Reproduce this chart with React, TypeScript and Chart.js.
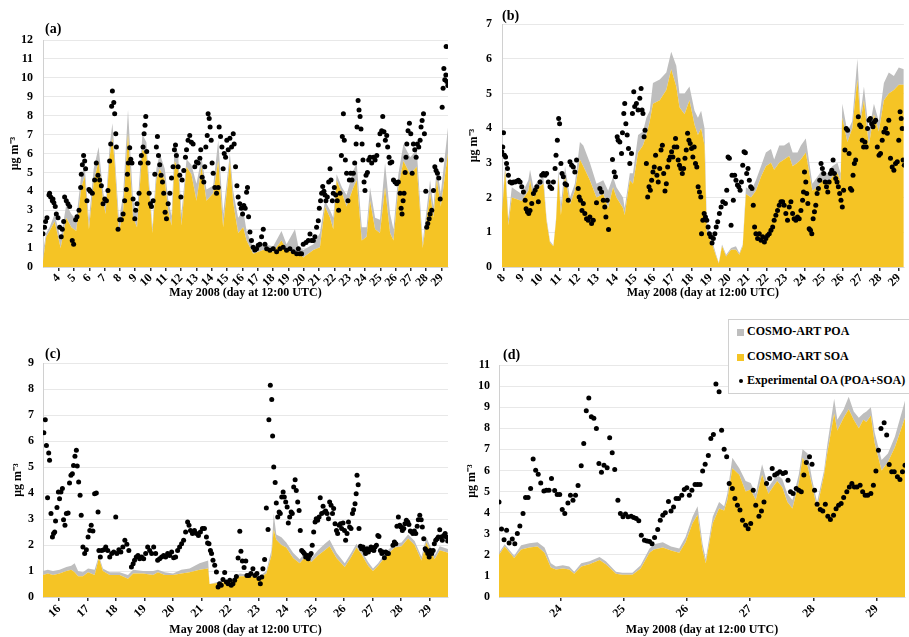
import React, { useEffect, useRef } from "react";
import { Chart, registerables } from "chart.js";
Chart.register(...registerables);

// ---------- DATA ----------
// Model rows: [day of May (integer = 12:00 UTC), SOA, POA]
const aModel = [[2.98,0.3,0.5],[3.19,1.6,0.2],[3.41,1.9,0.2],[3.74,2.4,0.4],[4.13,1.0,0.5],[4.50,2.6,0.7],[4.83,2.1,0.7],[5.15,1.9,0.6],[5.48,4.2,0.7],[5.70,4.8,0.5],[5.98,2.0,0.5],[6.29,4.5,0.7],[6.61,5.6,0.75],[6.90,3.5,0.5],[7.07,2.8,0.4],[7.33,5.8,0.6],[7.51,6.8,0.8],[7.66,5.5,0.5],[7.94,1.8,0.7],[8.21,3.0,0.8],[8.53,7.05,1.25],[8.86,2.6,0.9],[9.12,2.1,0.7],[9.47,6.2,0.8],[9.73,6.0,0.6],[10.12,1.8,0.3],[10.38,4.6,0.6],[10.60,5.2,0.8],[10.93,4.6,0.6],[11.15,3.0,0.6],[11.37,2.2,0.5],[11.58,5.6,0.9],[11.80,5.2,0.8],[12.02,2.2,0.6],[12.35,5.3,0.4],[12.67,4.9,0.5],[13.00,3.5,0.9],[13.33,5.3,0.5],[13.65,3.5,0.6],[14.09,3.9,0.4],[14.42,5.6,1.1],[14.74,2.1,0.7],[15.18,5.6,0.4],[15.40,3.4,0.6],[15.72,1.8,0.8],[16.05,2.1,0.9],[16.27,1.4,0.5],[16.70,0.7,0.35],[17.36,0.9,0.3],[18.01,0.8,0.3],[18.55,1.4,0.5],[18.88,0.9,0.3],[19.43,0.7,1.3],[19.65,0.8,0.3],[19.97,0.5,0.4],[20.63,0.9,0.3],[21.06,1.05,0.75],[21.39,3.2,0.3],[21.72,2.6,0.4],[21.93,2.0,0.6],[22.15,4.6,0.3],[22.50,3.9,0.3],[22.80,3.2,0.6],[23.24,4.2,0.9],[23.46,4.6,0.9],[23.79,1.4,0.7],[24.11,1.6,0.5],[24.33,3.5,0.7],[24.66,2.0,0.6],[24.98,1.8,0.7],[25.31,4.2,1.3],[25.64,1.8,1.0],[25.86,1.4,0.6],[26.18,4.2,0.7],[26.51,5.6,0.9],[26.95,4.9,0.9],[27.38,5.3,0.9],[27.77,1.0,0.3],[28.25,3.9,0.7],[28.47,2.6,0.6],[28.69,4.6,0.7],[28.95,3.2,0.7],[29.45,6.2,1.4]];

// Experimental OA: [day, value]
const aObs = [[2.98,1.76],[3.08,2.1],[3.15,2.4],[3.24,2.6],[3.37,3.8],[3.41,3.9],[3.48,3.7],[3.59,3.5],[3.63,3.6],[3.69,3.4],[3.78,3.2],[3.85,2.8],[3.96,2.6],[4.07,2.1],[4.17,1.6],[4.24,2.0],[4.33,2.4],[4.39,3.7],[4.50,3.5],[4.61,3.35],[4.72,3.2],[4.89,1.4],[4.98,1.2],[5.11,2.5],[5.20,2.65],[5.33,3.0],[5.44,4.2],[5.48,4.9],[5.55,5.4],[5.63,5.9],[5.70,5.6],[5.76,5.2],[5.85,3.5],[5.98,4.1],[6.07,4.0],[6.20,3.9],[6.35,4.6],[6.46,5.5],[6.57,4.85],[6.68,4.6],[6.79,4.3],[6.90,3.35],[7.01,3.6],[7.12,3.5],[7.22,4.05],[7.33,5.6],[7.40,6.5],[7.46,8.5],[7.51,9.3],[7.60,8.7],[7.66,8.1],[7.73,7.05],[7.77,6.35],[7.88,2.0],[7.99,2.5],[8.10,2.5],[8.21,2.8],[8.31,3.5],[8.42,4.1],[8.49,4.9],[8.55,5.5],[8.64,6.3],[8.71,5.7],[8.79,5.5],[8.86,3.6],[8.97,2.55],[9.03,3.0],[9.12,3.35],[9.25,3.9],[9.34,5.5],[9.40,5.9],[9.51,6.35],[9.58,7.05],[9.64,7.5],[9.69,7.95],[9.75,6.1],[9.84,5.5],[9.91,3.9],[9.99,3.35],[10.06,3.2],[10.17,3.5],[10.28,4.9],[10.38,6.35],[10.45,6.9],[10.52,5.9],[10.60,5.4],[10.69,4.85],[10.78,4.5],[10.86,3.9],[10.95,2.9],[11.04,2.55],[11.15,3.35],[11.26,3.9],[11.37,4.7],[11.47,5.3],[11.56,6.2],[11.63,6.45],[11.69,5.9],[11.80,5.3],[11.91,4.85],[11.98,3.7],[12.06,4.6],[12.17,5.1],[12.28,5.8],[12.35,6.2],[12.45,6.7],[12.56,6.95],[12.67,6.6],[12.78,6.5],[12.89,5.3],[13.00,5.55],[13.11,5.5],[13.22,5.75],[13.28,6.2],[13.37,4.75],[13.48,4.5],[13.54,5.3],[13.61,6.35],[13.70,6.95],[13.76,8.1],[13.83,7.85],[13.89,7.4],[13.96,6.7],[14.02,5.5],[14.09,4.95],[14.20,4.2],[14.31,3.9],[14.42,4.2],[14.48,7.4],[14.57,6.9],[14.66,6.35],[14.74,5.2],[14.81,6.0],[14.90,5.8],[14.98,6.7],[15.07,6.2],[15.18,6.8],[15.29,6.35],[15.40,7.05],[15.46,6.5],[15.55,5.3],[15.64,4.3],[15.72,3.7],[15.83,3.35],[15.92,3.1],[16.01,2.8],[16.09,3.25],[16.18,3.1],[16.27,3.95],[16.33,4.2],[16.40,2.65],[16.49,1.85],[16.59,1.4],[16.70,1.05],[16.81,0.9],[16.92,0.97],[17.03,1.15],[17.14,1.2],[17.25,1.6],[17.36,2.0],[17.47,1.2],[17.58,0.97],[17.79,0.88],[18.01,0.97],[18.23,0.8],[18.45,0.97],[18.66,1.05],[18.88,0.88],[19.10,0.97],[19.32,0.8],[19.54,0.7],[19.65,0.97],[19.75,0.7],[19.86,0.7],[19.97,1.2],[20.15,1.3],[20.30,1.4],[20.41,1.75],[20.52,1.4],[20.63,1.4],[20.73,1.6],[20.84,2.1],[20.95,2.45],[21.02,3.1],[21.10,3.5],[21.17,3.9],[21.24,4.25],[21.32,4.0],[21.39,3.8],[21.45,3.5],[21.54,3.7],[21.63,4.5],[21.72,5.2],[21.78,4.6],[21.87,3.5],[21.93,3.9],[22.00,4.2],[22.09,3.8],[22.19,3.5],[22.28,3.0],[22.37,3.9],[22.46,5.9],[22.52,6.9],[22.59,8.1],[22.65,6.7],[22.72,5.65],[22.80,4.95],[22.89,3.5],[22.98,4.6],[23.07,4.95],[23.15,4.6],[23.24,4.95],[23.33,5.5],[23.42,6.5],[23.48,7.4],[23.55,8.8],[23.61,8.3],[23.68,7.95],[23.74,7.3],[23.81,6.5],[23.87,5.65],[23.94,4.5],[24.00,4.05],[24.07,4.85],[24.16,5.0],[24.24,5.65],[24.33,5.8],[24.44,5.5],[24.55,5.8],[24.66,5.65],[24.77,5.9],[24.87,6.45],[24.98,7.05],[25.09,7.2],[25.16,7.95],[25.24,7.15],[25.33,6.7],[25.42,6.95],[25.48,6.35],[25.57,5.8],[25.64,5.5],[25.75,5.55],[25.86,4.6],[25.96,4.5],[26.07,4.4],[26.18,4.5],[26.29,3.9],[26.36,3.1],[26.42,2.8],[26.49,3.5],[26.55,3.9],[26.62,5.0],[26.68,5.8],[26.73,6.5],[26.81,7.2],[26.90,7.6],[26.99,7.05],[27.08,4.95],[27.16,6.5],[27.25,6.2],[27.34,5.8],[27.42,6.5],[27.51,6.35],[27.60,6.7],[27.66,7.4],[27.73,7.75],[27.82,8.1],[27.88,7.05],[27.97,4.0],[28.03,2.1],[28.10,2.3],[28.19,2.55],[28.25,2.8],[28.36,3.0],[28.47,4.05],[28.56,5.3],[28.64,5.1],[28.73,4.95],[28.82,4.7],[28.91,3.6],[28.99,5.65],[29.04,8.45],[29.10,9.45],[29.15,10.5],[29.21,9.9],[29.28,10.15],[29.30,11.65],[29.34,9.8],[29.41,9.6]];

const bModel = [[7.91,1.5,0.1],[8.09,2.8,0.2],[8.26,1.2,0.2],[8.44,2.0,0.3],[8.71,1.95,0.25],[8.97,1.9,0.2],[9.32,2.2,0.3],[9.41,2.5,0.3],[9.59,2.0,0.3],[9.85,2.3,0.2],[10.12,2.4,0.2],[10.29,1.3,0.1],[10.47,0.7,0.05],[10.65,0.6,0.02],[10.79,1.3,0.1],[10.91,2.6,0.2],[11.05,1.5,0.3],[11.27,2.6,0.3],[11.53,1.8,0.2],[11.79,2.2,0.2],[12.06,3.1,0.5],[12.24,2.9,0.6],[12.59,2.5,0.5],[12.94,2.0,0.4],[13.30,2.1,0.4],[13.56,1.7,0.5],[13.82,2.3,0.3],[14.00,2.0,0.3],[14.35,1.7,0.3],[14.44,1.5,0.2],[14.71,2.5,0.2],[14.88,2.4,0.3],[15.15,3.3,0.5],[15.41,3.5,0.4],[15.59,3.8,0.5],[15.77,4.2,0.3],[15.94,4.7,0.6],[16.30,4.8,0.6],[16.65,5.1,0.5],[16.91,5.7,0.5],[17.18,5.2,0.6],[17.35,4.6,0.4],[17.62,4.4,0.6],[17.88,4.8,0.4],[18.15,4.1,0.4],[18.33,3.8,0.5],[18.50,4.0,0.5],[18.68,3.5,0.5],[18.80,1.0,0.3],[19.12,0.6,0.1],[19.30,0.3,0.05],[19.44,0.1,0.02],[19.61,0.6,0.05],[19.83,0.3,0.05],[20.09,0.5,0.05],[20.35,0.5,0.1],[20.53,0.35,0.05],[20.71,0.6,0.05],[20.88,2.1,0.2],[21.15,2.0,0.2],[21.41,2.2,0.3],[21.68,2.6,0.3],[21.94,2.9,0.4],[22.21,3.0,0.4],[22.38,2.8,0.3],[22.65,3.0,0.5],[22.91,3.1,0.4],[23.18,3.2,0.4],[23.36,2.9,0.4],[23.62,3.0,0.3],[23.80,3.1,0.4],[24.06,3.3,0.4],[24.41,2.2,0.2],[24.68,2.3,0.3],[24.94,2.5,0.3],[25.21,2.4,0.3],[25.47,2.6,0.3],[25.74,2.7,0.3],[25.91,2.5,0.2],[26.00,4.3,0.4],[26.27,3.6,0.3],[26.53,4.0,0.2],[26.80,5.4,0.6],[26.97,4.2,0.2],[27.15,4.8,0.4],[27.41,3.5,0.4],[27.68,4.4,0.3],[27.94,3.9,0.3],[28.21,4.8,0.5],[28.47,5.0,0.6],[28.74,5.1,0.4],[29.00,5.25,0.5],[29.27,5.25,0.45]];

const bObs = [[7.91,3.32],[7.96,3.46],[8.00,3.87],[8.05,3.22],[8.11,3.17],[8.16,2.98],[8.21,2.84],[8.26,2.64],[8.35,2.45],[8.44,2.42],[8.53,2.45],[8.62,2.45],[8.71,2.47],[8.79,2.5],[8.88,2.45],[8.97,2.31],[9.06,2.16],[9.15,1.92],[9.20,1.68],[9.27,1.59],[9.34,1.54],[9.41,1.63],[9.50,1.83],[9.59,2.12],[9.68,2.21],[9.77,2.31],[9.85,1.88],[9.94,2.45],[10.03,2.64],[10.12,2.69],[10.21,2.64],[10.29,2.69],[10.38,2.45],[10.47,2.31],[10.56,2.26],[10.65,2.45],[10.74,2.84],[10.79,3.22],[10.86,3.65],[10.93,4.28],[10.98,4.13],[11.05,2.98],[11.11,2.69],[11.18,2.6],[11.27,2.4],[11.35,2.36],[11.44,1.92],[11.53,3.03],[11.62,2.93],[11.71,2.88],[11.79,2.74],[11.88,3.08],[11.97,2.26],[12.02,2.02],[12.09,1.92],[12.17,1.63],[12.24,1.83],[12.32,1.54],[12.41,1.39],[12.50,1.35],[12.59,1.44],[12.68,1.25],[12.77,1.35],[12.94,1.85],[13.12,2.26],[13.21,2.16],[13.30,1.92],[13.38,1.73],[13.44,1.44],[13.51,1.92],[13.58,1.08],[13.79,3.1],[13.88,2.74],[13.95,2.6],[14.04,3.75],[14.09,3.65],[14.18,3.6],[14.27,3.27],[14.32,3.87],[14.39,4.42],[14.44,4.71],[14.50,4.13],[14.57,3.8],[14.64,3.41],[14.71,2.98],[14.80,3.27],[14.85,4.42],[14.92,5.05],[14.97,4.62],[15.06,4.71],[15.15,4.52],[15.24,4.86],[15.31,5.14],[15.36,4.52],[15.41,4.42],[15.47,3.75],[15.52,3.94],[15.59,2.98],[15.66,2.02],[15.73,2.31],[15.80,2.21],[15.87,2.5],[15.94,2.74],[16.01,2.88],[16.08,3.22],[16.15,2.64],[16.22,2.45],[16.30,2.84],[16.37,3.37],[16.44,3.51],[16.51,2.69],[16.58,2.19],[16.65,2.4],[16.72,2.88],[16.79,3.08],[16.86,3.17],[16.93,3.32],[17.00,3.17],[17.07,3.46],[17.14,3.7],[17.21,3.46],[17.28,3.08],[17.35,2.93],[17.42,2.84],[17.50,2.69],[17.57,2.84],[17.64,3.13],[17.71,3.37],[17.78,3.85],[17.85,3.65],[17.92,3.56],[17.99,3.41],[18.06,3.17],[18.13,3.46],[18.20,2.98],[18.27,2.88],[18.34,2.31],[18.41,2.16],[18.48,2.02],[18.52,0.96],[18.59,1.35],[18.66,1.54],[18.73,1.44],[18.80,1.35],[18.87,1.15],[18.94,0.96],[19.01,0.87],[19.08,0.69],[19.15,0.82],[19.23,0.96],[19.30,1.15],[19.38,1.3],[19.47,1.54],[19.56,1.73],[19.65,1.88],[19.79,1.83],[19.86,2.21],[19.93,3.17],[20.00,3.13],[20.09,1.2],[20.14,2.64],[20.21,1.92],[20.28,2.64],[20.35,2.5],[20.43,2.36],[20.50,2.31],[20.57,2.21],[20.64,2.45],[20.71,2.93],[20.78,3.32],[20.85,3.29],[20.92,2.69],[20.99,2.84],[21.06,2.5],[21.13,2.31],[21.20,2.26],[21.27,1.78],[21.34,1.15],[21.41,0.96],[21.50,0.82],[21.59,0.96],[21.68,0.77],[21.77,0.87],[21.86,0.72],[21.94,0.82],[22.03,0.91],[22.12,0.96],[22.21,1.06],[22.30,1.15],[22.38,1.35],[22.47,1.49],[22.56,1.63],[22.65,1.78],[22.74,1.88],[22.83,1.88],[22.91,1.78],[23.00,1.54],[23.09,1.35],[23.18,1.73],[23.27,1.88],[23.36,1.54],[23.44,1.39],[23.53,1.35],[23.62,1.44],[23.71,1.39],[23.80,1.63],[23.89,1.92],[23.94,2.16],[23.99,2.74],[24.06,2.45],[24.11,2.12],[24.17,1.83],[24.24,1.1],[24.31,1.06],[24.38,0.96],[24.45,1.39],[24.52,1.59],[24.59,1.78],[24.66,2.12],[24.73,2.26],[24.80,2.5],[24.87,2.98],[24.94,2.84],[25.01,2.69],[25.09,2.45],[25.16,2.31],[25.23,2.16],[25.30,2.45],[25.37,2.69],[25.44,2.79],[25.51,3.08],[25.58,2.69],[25.65,2.55],[25.72,2.45],[25.79,2.31],[25.86,2.12],[25.93,1.92],[26.00,1.73],[26.07,2.21],[26.14,3.37],[26.21,3.99],[26.28,3.94],[26.36,3.27],[26.43,2.26],[26.50,2.21],[26.57,2.64],[26.64,2.98],[26.71,3.08],[26.85,4.33],[26.92,4.09],[26.99,4.04],[27.06,3.65],[27.13,3.46],[27.20,3.6],[27.27,3.46],[27.34,3.99],[27.42,4.23],[27.49,4.28],[27.56,4.13],[27.63,4.04],[27.70,4.18],[27.77,4.23],[27.86,3.46],[27.95,3.22],[28.03,3.27],[28.12,3.65],[28.21,3.89],[28.30,3.99],[28.39,3.85],[28.47,4.23],[28.56,3.13],[28.65,2.88],[28.74,2.79],[28.83,2.98],[28.92,3.03],[29.00,3.65],[29.07,4.47],[29.13,4.28],[29.18,3.99],[29.23,3.08],[29.29,2.93]];

const cModel = [[15.44,0.85,0.15],[15.61,0.9,0.15],[15.79,0.85,0.15],[16.02,0.9,0.15],[16.26,1.0,0.15],[16.43,1.05,0.15],[16.55,0.95,0.35],[16.67,0.8,0.2],[16.84,0.8,0.15],[17.02,0.95,0.15],[17.25,0.85,0.2],[17.40,1.5,0.1],[17.54,1.0,0.1],[17.78,0.85,0.1],[18.13,0.85,0.1],[18.42,0.7,0.15],[18.60,0.9,0.15],[18.95,0.9,0.1],[19.30,0.85,0.15],[19.47,0.95,0.1],[19.71,0.85,0.1],[20.00,0.85,0.05],[20.29,0.9,0.15],[20.58,0.95,0.15],[20.93,1.05,0.25],[21.23,1.1,0.3],[21.28,0.5,0.0],[21.64,0.55,0.05],[21.99,0.6,0.05],[22.34,0.8,0.1],[22.69,0.8,0.05],[23.04,0.75,0.05],[23.27,0.9,0.1],[23.45,1.6,0.2],[23.53,2.6,0.6],[23.62,2.2,0.2],[23.80,2.0,0.3],[23.97,1.9,0.2],[24.21,1.5,0.2],[24.44,1.3,0.15],[24.67,1.6,0.15],[24.85,1.35,0.15],[25.08,1.6,0.2],[25.32,1.8,0.25],[25.49,1.95,0.25],[25.73,1.5,0.2],[26.02,1.15,0.15],[26.25,1.55,0.15],[26.43,1.9,0.15],[26.60,1.65,0.15],[26.84,1.2,0.15],[27.01,1.0,0.1],[27.19,1.2,0.1],[27.48,1.6,0.15],[27.77,1.9,0.15],[28.01,1.95,0.15],[28.24,2.25,0.15],[28.47,2.0,0.15],[28.71,1.4,0.15],[28.88,2.1,0.2],[29.06,1.7,0.15],[29.17,1.45,0.15],[29.35,1.8,0.15],[29.64,1.7,0.15]];

const cObs = [[15.47,6.32],[15.52,6.82],[15.56,5.83],[15.60,3.82],[15.64,5.54],[15.67,5.26],[15.72,3.21],[15.77,2.31],[15.81,2.44],[15.85,2.5],[15.88,2.92],[15.93,3.44],[15.98,4.04],[16.02,3.78],[16.07,4.04],[16.12,4.17],[16.16,2.97],[16.21,2.76],[16.26,3.21],[16.32,3.23],[16.37,4.38],[16.42,4.68],[16.47,4.74],[16.51,5.06],[16.56,5.41],[16.61,5.64],[16.64,5.04],[16.69,4.42],[16.74,3.91],[16.78,3.14],[16.84,1.92],[16.90,1.67],[16.96,1.82],[17.02,2.31],[17.08,2.56],[17.13,2.76],[17.19,2.54],[17.25,3.97],[17.31,4.0],[17.37,3.27],[17.40,1.79],[17.45,1.54],[17.50,1.79],[17.57,1.82],[17.64,1.92],[17.71,1.79],[17.78,1.54],[17.85,1.67],[17.92,1.73],[17.99,3.08],[18.03,1.67],[18.10,1.82],[18.17,1.73],[18.24,1.92],[18.31,2.18],[18.38,2.03],[18.45,1.79],[18.54,1.15],[18.60,1.28],[18.65,1.41],[18.71,1.54],[18.77,1.6],[18.83,1.47],[18.90,1.54],[18.97,1.47],[19.04,1.67],[19.11,1.92],[19.18,1.79],[19.25,1.67],[19.32,1.92],[19.39,1.67],[19.46,1.41],[19.53,1.47],[19.60,1.54],[19.67,1.6],[19.74,1.54],[19.81,1.67],[19.88,1.6],[19.95,1.73],[20.02,1.51],[20.09,1.54],[20.16,1.79],[20.23,1.92],[20.30,2.05],[20.37,2.18],[20.44,2.5],[20.51,2.88],[20.56,2.76],[20.61,2.56],[20.68,2.44],[20.75,2.56],[20.82,2.44],[20.89,2.37],[20.96,2.5],[21.03,2.63],[21.10,2.63],[21.17,2.31],[21.21,2.08],[21.26,2.05],[21.31,1.79],[21.35,1.67],[21.40,1.41],[21.46,1.22],[21.52,0.96],[21.58,0.38],[21.63,0.51],[21.69,0.45],[21.75,0.67],[21.81,0.94],[21.87,0.58],[21.93,0.51],[21.99,0.64],[22.04,0.45],[22.10,0.51],[22.16,0.64],[22.22,0.79],[22.28,1.5],[22.34,2.53],[22.38,1.76],[22.43,1.38],[22.49,1.13],[22.55,1.38],[22.59,0.83],[22.66,0.83],[22.73,0.9],[22.80,1.09],[22.87,0.83],[22.94,0.9],[23.01,0.71],[23.06,0.51],[23.11,0.77],[23.15,1.09],[23.21,1.44],[23.27,3.42],[23.33,2.6],[23.36,6.82],[23.41,8.14],[23.46,7.6],[23.49,6.19],[23.53,5.0],[23.58,4.4],[23.62,3.62],[23.67,3.08],[23.72,3.27],[23.76,3.21],[23.81,3.85],[23.86,4.04],[23.90,3.85],[23.95,3.65],[24.00,3.46],[24.04,2.85],[24.09,3.08],[24.14,3.27],[24.18,3.21],[24.23,4.23],[24.28,4.51],[24.32,4.1],[24.37,3.65],[24.42,3.33],[24.46,2.56],[24.51,1.79],[24.56,1.73],[24.60,1.67],[24.65,1.54],[24.70,1.6],[24.74,1.47],[24.79,1.6],[24.84,1.67],[24.88,1.99],[24.93,2.5],[24.98,2.88],[25.02,3.01],[25.07,2.95],[25.12,3.08],[25.16,3.82],[25.21,3.21],[25.26,3.49],[25.31,3.27],[25.35,3.31],[25.40,3.21],[25.45,3.01],[25.49,3.65],[25.54,3.53],[25.59,3.21],[25.63,3.4],[25.68,2.82],[25.73,2.56],[25.77,2.44],[25.82,2.76],[25.87,2.82],[25.91,2.63],[25.96,2.85],[26.01,2.56],[26.05,2.18],[26.10,2.44],[26.15,2.88],[26.19,2.69],[26.24,2.63],[26.29,3.21],[26.33,3.36],[26.38,3.59],[26.42,3.97],[26.45,4.68],[26.49,4.32],[26.52,2.63],[26.57,1.95],[26.61,1.86],[26.66,1.92],[26.71,1.79],[26.75,1.67],[26.80,1.86],[26.85,1.73],[26.89,1.82],[26.94,1.92],[26.99,1.82],[27.04,1.79],[27.08,1.92],[27.13,1.99],[27.18,2.37],[27.22,2.33],[27.27,1.79],[27.32,1.67],[27.36,1.73],[27.41,1.51],[27.46,1.73],[27.50,1.67],[27.55,1.67],[27.71,1.99],[27.76,2.12],[27.81,2.05],[27.85,2.72],[27.90,3.08],[27.95,2.76],[27.99,2.69],[28.04,2.56],[28.09,2.63],[28.13,2.82],[28.18,2.95],[28.23,2.88],[28.27,2.79],[28.32,2.54],[28.37,2.5],[28.41,2.44],[28.46,2.54],[28.51,2.44],[28.56,2.72],[28.60,2.97],[28.65,3.14],[28.70,2.97],[28.74,2.69],[28.79,2.24],[28.84,1.86],[28.88,1.79],[28.93,1.67],[28.98,1.54],[29.02,1.79],[29.07,1.67],[29.12,1.79],[29.16,2.05],[29.21,2.18],[29.26,2.24],[29.30,2.31],[29.35,2.59],[29.40,2.31],[29.44,2.18],[29.49,2.37],[29.54,2.44],[29.58,2.31],[29.63,2.15]];

const dModel = [[23.03,2.0,0.1],[23.12,2.4,0.1],[23.27,1.85,0.1],[23.38,2.25,0.2],[23.51,2.35,0.2],[23.64,2.4,0.2],[23.75,2.1,0.25],[23.85,1.4,0.2],[23.93,1.3,0.15],[24.04,1.35,0.15],[24.14,1.3,0.15],[24.22,1.1,0.1],[24.33,1.45,0.15],[24.46,1.55,0.15],[24.62,1.75,0.15],[24.72,1.55,0.15],[24.88,1.1,0.1],[24.98,1.05,0.1],[25.14,1.05,0.1],[25.27,1.35,0.15],[25.41,2.1,0.2],[25.48,2.25,0.25],[25.62,2.35,0.25],[25.75,2.2,0.2],[25.88,2.1,0.2],[25.98,2.6,0.25],[26.09,3.5,0.3],[26.17,3.9,0.4],[26.25,2.2,0.3],[26.30,1.6,0.2],[26.41,3.5,0.3],[26.51,4.2,0.3],[26.59,4.1,0.2],[26.64,4.6,0.3],[26.72,6.1,0.5],[26.83,5.8,0.3],[26.93,5.0,0.5],[27.01,5.1,0.3],[27.09,4.6,0.3],[27.19,5.8,0.5],[27.29,4.9,0.3],[27.38,5.3,0.3],[27.43,5.5,0.3],[27.51,5.2,0.4],[27.59,4.5,0.4],[27.67,4.2,0.4],[27.77,5.4,0.4],[27.83,6.6,0.4],[27.91,6.2,0.6],[27.98,5.3,0.3],[28.06,4.2,0.3],[28.17,5.8,0.2],[28.22,6.8,0.4],[28.33,8.7,0.7],[28.38,7.9,0.5],[28.48,8.5,0.4],[28.56,8.9,0.6],[28.64,8.4,0.4],[28.72,8.0,0.5],[28.79,8.4,0.3],[28.84,8.3,0.5],[28.91,8.6,0.4],[28.97,7.3,0.5],[29.08,6.0,0.5],[29.18,6.4,0.4],[29.29,7.1,0.5],[29.45,8.5,0.8]];

const dObs = [[23.03,4.51],[23.07,3.23],[23.11,2.72],[23.15,3.17],[23.19,2.56],[23.24,2.75],[23.28,2.53],[23.32,3.01],[23.36,3.37],[23.41,3.96],[23.45,4.72],[23.49,4.72],[23.53,5.14],[23.57,6.54],[23.61,6.01],[23.65,5.82],[23.69,5.41],[23.74,5.03],[23.78,5.06],[23.82,5.06],[23.86,5.62],[23.91,5.05],[23.95,4.86],[23.99,4.86],[24.03,4.15],[24.07,3.96],[24.12,4.46],[24.16,4.83],[24.20,4.59],[24.24,4.83],[24.28,5.29],[24.33,6.22],[24.37,7.28],[24.41,8.83],[24.45,9.43],[24.49,8.55],[24.53,8.47],[24.57,7.99],[24.61,6.33],[24.65,5.92],[24.69,6.25],[24.74,6.13],[24.78,7.55],[24.82,6.84],[24.86,6.05],[24.91,4.59],[24.95,3.96],[24.99,3.8],[25.03,3.93],[25.07,3.8],[25.12,3.83],[25.16,3.77],[25.20,3.72],[25.24,3.61],[25.28,2.93],[25.33,2.69],[25.37,2.66],[25.41,2.63],[25.45,2.53],[25.49,2.82],[25.54,3.2],[25.58,3.64],[25.62,3.88],[25.66,4.0],[25.71,4.53],[25.75,4.08],[25.79,4.27],[25.83,4.67],[25.87,4.67],[25.92,4.83],[25.96,5.1],[26.00,5.18],[26.04,4.83],[26.08,5.06],[26.13,5.33],[26.17,5.33],[26.21,5.33],[26.25,5.97],[26.29,6.3],[26.34,6.71],[26.38,7.52],[26.42,7.71],[26.46,10.1],[26.51,9.73],[26.55,7.91],[26.59,7.0],[26.63,6.65],[26.67,5.38],[26.72,5.14],[26.76,4.67],[26.80,4.35],[26.84,4.12],[26.88,3.64],[26.93,3.4],[26.97,3.24],[27.01,3.48],[27.05,5.06],[27.09,4.35],[27.14,3.83],[27.18,4.08],[27.22,4.51],[27.26,5.38],[27.31,5.62],[27.35,6.09],[27.39,5.78],[27.43,5.86],[27.47,5.94],[27.52,5.86],[27.56,5.9],[27.60,5.54],[27.64,4.99],[27.68,4.91],[27.73,5.14],[27.77,5.06],[27.81,4.99],[27.85,5.78],[27.89,6.38],[27.94,6.65],[27.98,6.3],[28.02,5.06],[28.06,4.4],[28.11,4.15],[28.15,4.08],[28.19,4.4],[28.23,3.83],[28.27,3.67],[28.32,3.88],[28.36,4.19],[28.40,4.35],[28.44,4.43],[28.48,4.72],[28.53,4.99],[28.57,5.22],[28.61,5.38],[28.65,5.22],[28.69,5.22],[28.74,5.3],[28.78,4.99],[28.82,4.83],[28.86,4.83],[28.91,4.91],[28.95,5.3],[28.99,5.98],[29.03,6.96],[29.07,7.99],[29.12,8.26],[29.16,7.68],[29.20,6.28],[29.24,5.94],[29.28,5.94],[29.33,5.7],[29.37,5.57],[29.41,5.94],[29.45,6.25]];

// Tick labels (days of May 2008)
const aTicks = [4,5,6,7,8,9,10,11,12,13,14,15,16,17,18,19,20,21,22,23,24,25,26,27,28,29];
const bTicks = [8,9,10,11,12,13,14,15,16,17,18,19,20,21,22,23,24,25,26,27,28,29];
const cTicks = [16,17,18,19,20,21,22,23,24,25,26,27,28,29];
const dTicks = [24,25,26,27,28,29];
const aYMax = 12, bYMax = 7, cYMax = 9, dYMax = 11;
const xTitle = "May 2008 (day at 12:00 UTC)";
const yTitle = "μg m⁻³";
const legendLabels = ["COSMO-ART POA", "COSMO-ART SOA", "Experimental OA (POA+SOA)"];

// ---------- STYLE ----------
const FONT = "'Liberation Serif', 'Times New Roman', serif";
const YELLOW = "#F5C425";
const GRAY = "#BEBEBE";

type PanelCfg = {
  model: number[][]; obs: number[][]; ticks: number[]; yMax: number;
  xMin: number; xMax: number;
  left: number; top: number; w: number; h: number;
  padTop: number; padRight: number; yWidth: number; xHeight: number;
  yTitlePad: number; xTitlePad: number; yTickPad: number; xTickPad: number;
};

function Panel({ cfg }: { cfg: PanelCfg }) {
  const ref = useRef<HTMLCanvasElement | null>(null);
  useEffect(() => {
    if (!ref.current) return;
    const font = { family: FONT, size: 12, weight: "bold" as const };
    const chart = new Chart(ref.current, {
      type: "line",
      data: {
        datasets: [
          {
            data: cfg.model.map((r) => ({ x: r[0], y: r[1] })),
            fill: "origin", backgroundColor: YELLOW, borderColor: "rgba(0,0,0,0)",
            borderWidth: 0, pointRadius: 0, tension: 0, order: 1,
          },
          {
            data: cfg.model.map((r) => ({ x: r[0], y: r[1] + r[2] })),
            fill: "-1", backgroundColor: GRAY, borderColor: "rgba(0,0,0,0)",
            borderWidth: 0, pointRadius: 0, tension: 0, order: 2,
          },
          {
            data: cfg.obs.map((p) => ({ x: p[0], y: p[1] })),
            showLine: false, pointRadius: 2.5, pointBackgroundColor: "#000",
            pointBorderColor: "#000", pointBorderWidth: 0, order: 0,
          },
        ],
      } as any,
      options: {
        responsive: false,
        animation: false,
        events: [],
        layout: { padding: { top: cfg.padTop, right: cfg.padRight, left: 0, bottom: 0 } },
        plugins: { legend: { display: false }, tooltip: { enabled: false } },
        scales: {
          x: {
            type: "linear", min: cfg.xMin, max: cfg.xMax, bounds: "data",
            afterBuildTicks: (s: any) => { s.ticks = cfg.ticks.map((v) => ({ value: v })); },
            afterFit: (s: any) => { s.height = cfg.xHeight; },
            ticks: {
              autoSkip: false, minRotation: 45, maxRotation: 45, padding: cfg.xTickPad,
              font, color: "#000", callback: (v: any) => String(v),
            },
            grid: { drawOnChartArea: false, tickLength: 4, color: "#333", lineWidth: 1.5 },
            border: { color: "#d8d8d8" },
            title: { display: true, text: xTitle, font, color: "#000", padding: { top: 0, bottom: cfg.xTitlePad } },
          },
          y: {
            min: 0, max: cfg.yMax,
            afterFit: (s: any) => { s.width = cfg.yWidth; },
            ticks: { stepSize: 1, font, color: "#000", padding: cfg.yTickPad },
            grid: { color: "#e8e8e8", drawTicks: false },
            border: { color: "#d0d0d0" },
            title: { display: true, text: yTitle, font, color: "#000", padding: { top: cfg.yTitlePad, bottom: 0 } },
          },
        },
      } as any,
    });
    return () => chart.destroy();
  }, [cfg]);
  return (
    <canvas
      ref={ref}
      width={cfg.w}
      height={cfg.h}
      style={{ position: "absolute", left: cfg.left, top: cfg.top, width: cfg.w, height: cfg.h }}
    />
  );
}

const panels: PanelCfg[] = [
  { model: aModel, obs: aObs, ticks: aTicks, yMax: aYMax, xMin: 2.98, xMax: 29.42,
    left: 0, top: 0, w: 455, h: 301, padTop: 40, padRight: 7, yWidth: 43, xHeight: 34,
    yTitlePad: 8, xTitlePad: 1, yTickPad: 10, xTickPad: 0 },
  { model: bModel, obs: bObs, ticks: bTicks, yMax: bYMax, xMin: 7.92, xMax: 29.27,
    left: 455, top: 0, w: 454, h: 301, padTop: 24, padRight: 4, yWidth: 47, xHeight: 34,
    yTitlePad: 12, xTitlePad: 1, yTickPad: 10, xTickPad: 0 },
  { model: cModel, obs: cObs, ticks: cTicks, yMax: cYMax, xMin: 15.44, xMax: 29.64,
    left: 0, top: 300, w: 455, h: 337, padTop: 63, padRight: 7, yWidth: 43, xHeight: 40,
    yTitlePad: 11, xTitlePad: 0, yTickPad: 9, xTickPad: 1 },
  { model: dModel, obs: dObs, ticks: dTicks, yMax: dYMax, xMin: 23.03, xMax: 29.45,
    left: 455, top: 300, w: 454, h: 337, padTop: 65, padRight: 3, yWidth: 44, xHeight: 40,
    yTitlePad: 10, xTitlePad: 0, yTickPad: 9, xTickPad: 1 },
];

const panelLabels = [
  { text: "(a)", left: 45, top: 20 },
  { text: "(b)", left: 502, top: 7 },
  { text: "(c)", left: 45, top: 345 },
  { text: "(d)", left: 503, top: 346 },
];

export default function App() {
  const labelStyle = { position: "absolute" as const, fontFamily: FONT, fontWeight: "bold" as const, fontSize: 14, lineHeight: "17px", color: "#000" };
  const legText = { fontFamily: FONT, fontWeight: "bold" as const, fontSize: 12, color: "#000", whiteSpace: "nowrap" as const };
  return (
    <div style={{ position: "absolute", left: 0, top: 0, width: 909, height: 637, overflow: "hidden", background: "#fff" }}>
      {panels.map((p, i) => <Panel key={i} cfg={p} />)}
      {panelLabels.map((l, i) => (
        <div key={i} style={{ ...labelStyle, left: l.left, top: l.top }}>{l.text}</div>
      ))}
      <div style={{ position: "absolute", left: 728, top: 319, width: 190, height: 73, border: "1px solid #d0d0d0", background: "#fff" }}>
        <div style={{ position: "absolute", left: 8, top: 9, width: 7, height: 7, background: GRAY }} />
        <div style={{ ...legText, position: "absolute", left: 18, top: 4 }}>{legendLabels[0]}</div>
        <div style={{ position: "absolute", left: 8, top: 34, width: 7, height: 7, background: YELLOW }} />
        <div style={{ ...legText, position: "absolute", left: 18, top: 29 }}>{legendLabels[1]}</div>
        <div style={{ position: "absolute", left: 10, top: 59, width: 4, height: 4, borderRadius: 2, background: "#000" }} />
        <div style={{ ...legText, position: "absolute", left: 18, top: 53 }}>{legendLabels[2]}</div>
      </div>
    </div>
  );
}
